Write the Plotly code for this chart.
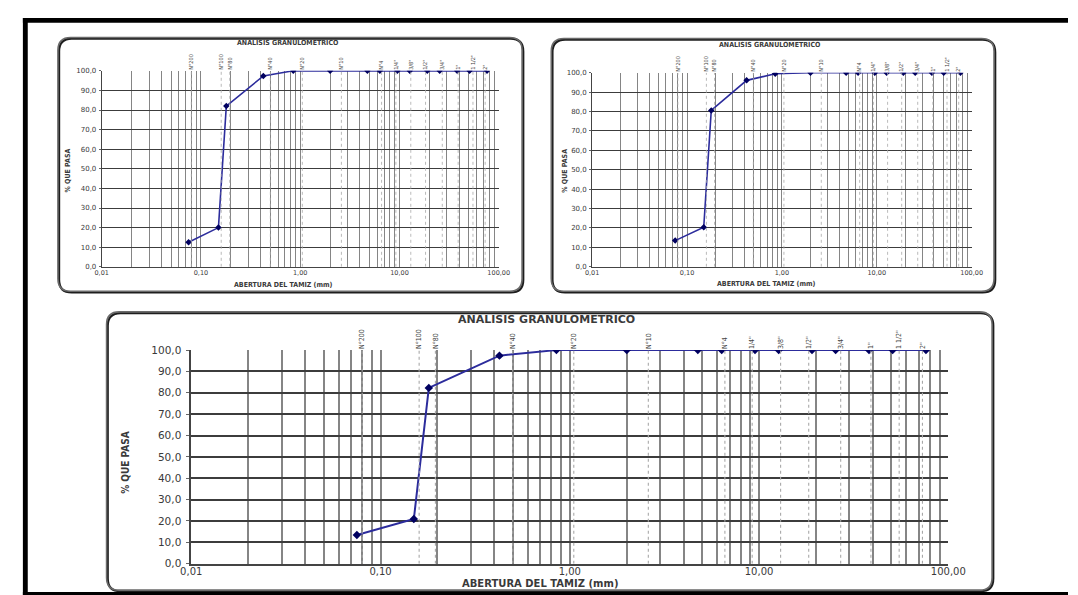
import plotly.graph_objects as go

W, H = 1078, 595

# ---------------- data ----------------
SIEVE_MM = [76.2, 50.8, 38.1, 25.4, 19.05, 12.7, 9.525, 6.35, 4.75, 2.0, 0.85, 0.425, 0.18, 0.15, 0.075]
PASS_A = [100.0, 100.0, 100.0, 100.0, 100.0, 100.0, 100.0, 100.0, 100.0, 100.0, 100.0, 97.4, 82.0, 20.0, 12.5]
PASS_B = [100.0, 100.0, 100.0, 100.0, 100.0, 100.0, 100.0, 100.0, 100.0, 100.0, 99.5, 96.1, 80.6, 20.4, 13.5]
PASS_C = [100.0, 100.0, 100.0, 100.0, 100.0, 100.0, 100.0, 100.0, 100.0, 100.0, 100.0, 97.4, 82.3, 20.9, 13.4]

SIEVE_LABELS = ["N°200", "N°100", "N°80", "N°40", "N°20", "N°10", "N°4",
                '1/4"', '3/8"', '1/2"', '3/4"', '1"', '1 1/2"', '2"']
SIEVE_LABEL_MM = [0.08, 0.16, 0.195, 0.5, 1.05, 2.6, 6.6, 9.2, 13.0, 18.3, 27.0, 39.0, 55.0, 73.0]

X_TICK_VALUES = [0.01, 0.1, 1, 10, 100]
X_TICK_LABELS = ["0,01", "0,10", "1,00", "10,00", "100,00"]
Y_TICK_VALUES = [0, 10, 20, 30, 40, 50, 60, 70, 80, 90, 100]

TITLE = "ANALISIS GRANULOMETRICO"
X_TITLE = "ABERTURA DEL TAMIZ (mm)"
Y_TITLE = "% QUE PASA"

NARROW = "DejaVu Sans Condensed, Roboto Condensed, Liberation Sans, Arial, sans-serif"

# log-grid positions (1..9 x each decade)
GRID_VALS = [round(m * 10.0 ** e, 6) for e in range(-2, 2) for m in range(1, 10)] + [100.0]
GRID_TEXT = [X_TICK_LABELS[X_TICK_VALUES.index(v)] if v in X_TICK_VALUES else "" for v in GRID_VALS]


def px(x):
    return x / W


def py(y):
    return 1 - y / H


CHARTS = [
    dict(values=PASS_A, plot=(85, 58, 493, 258), box=(40, 24, 517, 283),
         title=(276, 30), xt=(272, 277), yt=(50, 160),
         tick=6.5, ttl=7.0, sieve=5.5, ytl=7.0, gw=1.4, hw=1.0, ms=5, lw=1.6, big=False, so=-1, yso=1),
    dict(values=PASS_B, plot=(589, 60, 979, 258), box=(547, 25, 1002, 283),
         title=(772, 32), xt=(768, 276), yt=(561, 160),
         tick=6.5, ttl=7.0, sieve=5.5, ytl=7.0, gw=1.4, hw=1.0, ms=5, lw=1.6, big=False, so=-1, yso=1),
    dict(values=PASS_C, plot=(177, 343, 955, 561), box=(90, 304, 1000, 588),
         title=(542, 312), xt=(535, 581), yt=(110, 458),
         tick=10, ttl=11, sieve=7, ytl=10.5, gw=2.4, hw=1.6, ms=6.5, lw=2.0, big=True, so=-2, yso=3),
]

fig = go.Figure()
layout = dict(
    width=W, height=H, margin=dict(l=0, r=0, t=0, b=0),
    paper_bgcolor="white", plot_bgcolor="white", showlegend=False,
    separators=", ",
    font=dict(family="DejaVu Sans", color="#333333"),
)
annotations = []
shapes = []


def rounded_path(x0, y0, x1, y1, r):
    pts = [
        ("M", [(x0 + r, y0)]),
        ("L", [(x1 - r, y0)]),
        ("Q", [(x1, y0), (x1, y0 + r)]),
        ("L", [(x1, y1 - r)]),
        ("Q", [(x1, y1), (x1 - r, y1)]),
        ("L", [(x0 + r, y1)]),
        ("Q", [(x0, y1), (x0, y1 - r)]),
        ("L", [(x0, y0 + r)]),
        ("Q", [(x0, y0), (x0 + r, y0)]),
    ]
    s = ""
    for cmd, ps in pts:
        s += cmd + " " + " ".join(f"{px(a):.5f},{py(b):.5f}" for a, b in ps) + " "
    return s + "Z"


for i, c in enumerate(CHARTS):
    xb = 2 * i + 1
    xt = 2 * i + 2
    yi = i + 1
    xb_name = "x" if xb == 1 else f"x{xb}"
    xt_name = f"x{xt}"
    y_name = "y" if yi == 1 else f"y{yi}"
    l, t, r, b = c["plot"]

    # sieve reference (dotted) lines, on the top axis
    dx, dy = [], []
    for v in SIEVE_LABEL_MM:
        dx += [v, v, None]
        dy += [0, 100, None]
    fig.add_trace(go.Scatter(x=dx, y=dy, mode="lines", xaxis=xt_name, yaxis=y_name,
                             line=dict(color="#a8a8a8", width=1.1 if c["big"] else 0.8, dash="dot"),
                             hoverinfo="skip"))
    # curve
    fig.add_trace(go.Scatter(x=SIEVE_MM, y=c["values"], mode="lines+markers",
                             xaxis=xb_name, yaxis=y_name,
                             line=dict(color="#2c2c9c", width=c["lw"]),
                             marker=dict(symbol="diamond", size=c["ms"], color="#000060")))

    layout[f"xaxis{'' if xb == 1 else xb}"] = dict(
        domain=[px(l), px(r)], anchor=y_name, type="log", range=[-2, 2],
        tickmode="array", tickvals=GRID_VALS, ticktext=GRID_TEXT, ticks="",
        ticklabelstandoff=c["so"],
        showgrid=True, gridcolor="#858585", gridwidth=c["gw"],
        showline=True, linecolor="#444444", linewidth=c["hw"], zeroline=False,
        tickfont=dict(size=c["tick"], color="#3a3a3a"),
        fixedrange=True,
    )
    layout[f"xaxis{xt}"] = dict(
        overlaying=xb_name, side="top", anchor=y_name, type="log", range=[-2, 2],
        tickmode="array", tickvals=SIEVE_LABEL_MM, ticktext=SIEVE_LABELS, tickangle=-90,
        ticks="", showgrid=False, showline=False, zeroline=False,
        tickfont=dict(size=c["sieve"], family=NARROW, color="#444444"),
        fixedrange=True,
    )
    layout[f"yaxis{'' if yi == 1 else yi}"] = dict(
        domain=[py(b), py(t)], anchor=xb_name, range=[0, 100],
        tickmode="array", tickvals=Y_TICK_VALUES, tickformat=".1f",
        ticks="outside", ticklen=3 if c["big"] else 2, tickcolor="#666666",
        ticklabelstandoff=c["yso"],
        showgrid=True, gridcolor="#3c3c3c", gridwidth=c["hw"],
        showline=True, linecolor="#444444", linewidth=c["hw"], zeroline=False,
        tickfont=dict(size=c["ytl"], color="#3a3a3a"),
        fixedrange=True,
    )

    tfam = "DejaVu Sans" if c["big"] else NARROW
    annotations.append(dict(text=f"<b>{TITLE}</b>", x=px(c["title"][0]), y=py(c["title"][1]),
                            xref="paper", yref="paper", showarrow=False, xanchor="center", yanchor="middle",
                            font=dict(size=c["ttl"], family=tfam, color="#3a3a3a")))
    annotations.append(dict(text=f"<b>{X_TITLE}</b>", x=px(c["xt"][0]), y=py(c["xt"][1]),
                            xref="paper", yref="paper", showarrow=False, xanchor="center", yanchor="middle",
                            font=dict(size=c["ttl"] - (1 if c["big"] else 0), family=tfam, color="#3a3a3a")))
    annotations.append(dict(text=f"<b>{Y_TITLE}</b>", x=px(c["yt"][0]), y=py(c["yt"][1]),
                            xref="paper", yref="paper", showarrow=False, xanchor="center", yanchor="middle",
                            textangle=-90,
                            font=dict(size=10 if c["big"] else 7, family=NARROW, color="#3a3a3a")))

    bx0, by0, bx1, by1 = c["box"]
    shapes.append(dict(type="path", path=rounded_path(bx0 + 1.2, by0 + 1.2, bx1 + 1.2, by1 + 1.2, 13),
                       xref="paper", yref="paper", line=dict(color="#1e1e1e", width=2.2), layer="below"))
    shapes.append(dict(type="path", path=rounded_path(bx0, by0, bx1, by1, 13),
                       xref="paper", yref="paper", line=dict(color="#6a6a6a", width=1.6), layer="below"))

# black frame pieces
shapes.append(dict(type="rect", xref="paper", yref="paper", x0=px(4), x1=1, y0=py(9), y1=py(4),
                   fillcolor="black", line=dict(width=0)))
shapes.append(dict(type="rect", xref="paper", yref="paper", x0=px(4), x1=px(9), y0=0, y1=py(4),
                   fillcolor="black", line=dict(width=0)))
shapes.append(dict(type="rect", xref="paper", yref="paper", x0=px(4), x1=1, y0=0, y1=py(590),
                   fillcolor="black", line=dict(width=0)))

layout["annotations"] = annotations
layout["shapes"] = shapes
fig.update_layout(**layout)

fig.write_html("out.html")
